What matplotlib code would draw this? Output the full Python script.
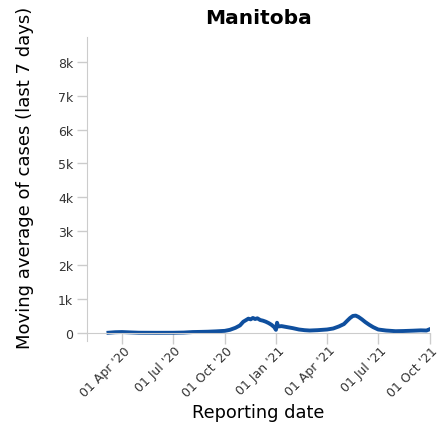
import pandas as pd
import matplotlib
matplotlib.use("Agg")
import matplotlib.pyplot as plt
import matplotlib.transforms as mtransforms

plt.rcParams['font.family'] = ['DejaVu Sans']

# 7-day moving average of reported cases, Manitoba
dates = ["2020-03-08", "2020-03-20", "2020-04-01", "2020-04-15", "2020-05-01",
         "2020-06-01", "2020-07-01", "2020-07-20", "2020-08-05", "2020-08-20",
         "2020-09-01", "2020-09-15", "2020-10-01", "2020-10-10", "2020-10-20",
         "2020-10-28", "2020-11-03", "2020-11-08", "2020-11-12", "2020-11-16",
         "2020-11-20", "2020-11-24", "2020-11-28", "2020-12-03", "2020-12-08",
         "2020-12-13", "2020-12-18", "2020-12-23", "2020-12-28", "2020-12-31",
         "2021-01-02", "2021-01-04", "2021-01-10", "2021-01-20", "2021-01-30",
         "2021-02-10", "2021-02-20", "2021-03-01", "2021-03-15", "2021-04-01",
         "2021-04-12", "2021-04-22", "2021-05-01", "2021-05-07", "2021-05-12",
         "2021-05-17", "2021-05-22", "2021-05-27", "2021-06-02", "2021-06-08",
         "2021-06-15", "2021-06-22", "2021-07-01", "2021-07-15", "2021-08-01",
         "2021-08-15", "2021-09-01", "2021-09-15", "2021-09-25", "2021-10-01"]
cases = [5, 20, 25, 15, 5,
         3, 4, 10, 25, 30,
         35, 45, 60, 90, 150,
         220, 330, 380, 420, 400,
         440, 410, 430, 380, 360,
         330, 290, 240, 170, 90,
         300, 190, 200, 170, 140,
         100, 80, 70, 80, 100,
         130, 190, 260, 360, 440,
         500, 510, 470, 400, 320,
         240, 170, 100, 70, 50,
         55, 65, 75, 70, 110]

tick_dates = ["2020-04-01", "2020-07-01", "2020-10-01", "2021-01-01",
              "2021-04-01", "2021-07-01", "2021-10-01"]
tick_labels = ["01 Apr '20", "01 Jul '20", "01 Oct '20", "01 Jan '21",
               "01 Apr '21", "01 Jul '21", "01 Oct '21"]
y_ticks = [0, 1000, 2000, 3000, 4000, 5000, 6000, 7000, 8000]
y_labels = ["0", "1k", "2k", "3k", "4k", "5k", "6k", "7k", "8k"]

x = pd.to_datetime(dates)

fig = plt.figure(figsize=(4.4, 4.27), dpi=100)
ax = fig.add_axes([0.198, 0.199, 0.779, 0.712])

ax.plot(x, cases, color="#0f4f9e", lw=2.8, solid_joinstyle="round")

ax.set_xlim(pd.Timestamp("2020-01-30"), pd.Timestamp("2021-10-01"))
ax.set_ylim(-240, 8730)

grey = "#cccccc"
ax.spines['top'].set_visible(False)
ax.spines['right'].set_visible(False)
ax.spines['left'].set_color(grey)
ax.spines['bottom'].set_color(grey)
ax.spines['bottom'].set_position(('data', 0))

ax.set_yticks(y_ticks)
ax.set_yticklabels(y_labels)
ax.set_xticks(pd.to_datetime(tick_dates))
ax.set_xticklabels(tick_labels, rotation=45, ha="right", va="center",
                   rotation_mode="anchor")
ax.tick_params(axis="both", color=grey, labelcolor="#333333", labelsize=9,
               width=1)
ax.tick_params(axis="y", length=7, pad=3)
ax.tick_params(axis="x", length=8, pad=3)
# nudge rotated labels to the right so they end at the tick like the original
shift = mtransforms.ScaledTranslation(6 / 100, 0, fig.dpi_scale_trans)
for lbl in ax.get_xticklabels():
    lbl.set_transform(lbl.get_transform() + shift)

ax.set_title("Manitoba", fontsize=14.5, fontweight="bold", pad=10)
ax.set_ylabel("Moving average of cases (last 7 days)", fontsize=13)
ax.yaxis.set_label_coords(-0.155, 0.541)
ax.set_xlabel("Reporting date", fontsize=12.8, labelpad=3)

fig.savefig("out.png", dpi=100)
